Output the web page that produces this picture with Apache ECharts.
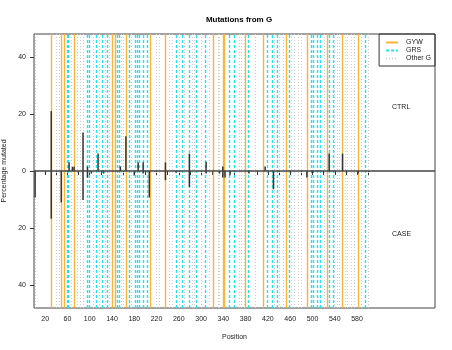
<!DOCTYPE html>
<html>
<head>
<meta charset="utf-8">
<script src="https://cdn.jsdelivr.net/npm/echarts@6/dist/echarts.min.js"></script>
<style>
  html, body { margin: 0; padding: 0; background: #fff; }
  #chart { width: 452px; height: 350px; }
</style>
</head>
<body>
<div id="chart"></div>
<script>
  // motif positions (nt) along the sequence
  const gywPos = [31, 49, 55, 72, 141, 146, 165, 208, 236, 321, 339, 342, 379, 412, 453, 491, 526, 554, 583];
  const grsPos = [59, 61, 96, 100, 112, 122, 131, 149, 153, 171, 181, 185, 189, 197, 204, 255, 267, 278, 291, 308,
    351, 359, 384, 419, 428, 437, 458, 497, 501, 509, 514, 530, 537, 594];
  const otherPos = [3, 40, 45, 66, 78, 83, 88, 106, 117, 128, 136, 156, 160, 175, 219, 225, 243, 249, 261, 270, 284,
    288, 301, 314, 331, 333, 368, 372, 377, 398, 432, 440, 447, 462, 468, 474, 480, 521, 539, 545, 548, 559, 563,
    569, 575, 587, 600];

  // percentage mutated, CTRL (up) and CASE (down)
  const ctrlPos = [31, 63, 69, 72, 88, 96, 115, 155, 165, 187, 196, 236, 279, 309, 339, 415, 530, 554];
  const ctrlPct = [21, 3.1, 1.5, 1.5, 13.5, 1.6, 6.1, 1.6, 12.2, 3, 3.1, 3, 6.1, 3.2, 1.6, 1.6, 6.1, 6.1];
  const casePos = [2, 31, 49, 88, 96, 103, 125, 180, 196, 207, 236, 255, 279, 309, 333, 339, 343, 352, 386, 430, 490, 500, 582];
  const casePct = [9.3, 16.7, 11, 10.2, 2.3, 0.9, 0.9, 1.6, 0.9, 9.3, 3.2, 0.6, 5.6, 0.9, 0.9, 2.3, 2.3, 1.5, 0.9, 6.4, 2.3, 0.9, 0.9];

  const xTicks = [];
  for (let v = 20; v <= 600; v += 20) xTicks.push(v);
  const xLabels = xTicks.filter((v, i) => i % 2 === 0);
  const yTicks = [-40, -20, 0, 20, 40];

  const font = 'Liberation Sans, Arial, sans-serif';

  function vLines(name, pos, color, width, dash) {
    return {
      name: name,
      type: 'line',
      data: [],
      symbol: 'none',
      z: 1,
      itemStyle: { color: 'rgba(0,0,0,0)' },
      lineStyle: { color: color, width: width, type: dash },
      markLine: {
        silent: true,
        symbol: 'none',
        z: 1,
        animation: false,
        label: { show: false },
        lineStyle: { color: color, width: width, type: dash },
        data: pos.map(p => ({ xAxis: p }))
      }
    };
  }

  const myChart = echarts.init(document.getElementById('chart'));
  const options = {
    animation: false,
    backgroundColor: '#fff',
    textStyle: { fontFamily: font },
    title: {
      text: 'Mutations from G',
      left: 234,
      top: 11,
      textAlign: 'center',
      textStyle: { fontSize: 8, fontWeight: 'bold', color: '#000', fontFamily: font }
    },
    legend: {
      orient: 'vertical',
      right: 17,
      top: 34,
      data: ['GYW', 'GRS', 'Other G'],
      itemWidth: 12,
      itemHeight: 7,
      itemGap: 1,
      padding: [5, 4, 4, 6],
      borderColor: '#333',
      borderWidth: 1,
      borderRadius: 0,
      textStyle: { fontSize: 7, color: '#222', padding: [0, 0, 0, 3], fontFamily: font }
    },
    grid: {
      left: 34, top: 34, right: 17, bottom: 42,
      containLabel: false, outerBoundsMode: 'none',
      show: true, borderColor: '#444', borderWidth: 1
    },
    xAxis: {
      type: 'value',
      min: 0,
      max: 720,
      name: 'Position',
      nameLocation: 'middle',
      nameGap: 26,
      nameTextStyle: { fontSize: 7, color: '#222' },
      axisLine: { show: false },
      splitLine: { show: false },
      axisTick: { show: true, length: 4, customValues: xTicks, lineStyle: { color: '#333' } },
      axisLabel: { customValues: xLabels, fontSize: 7, color: '#222', margin: 8 }
    },
    yAxis: {
      type: 'value',
      min: -48,
      max: 48,
      name: 'Percentage mutated',
      nameLocation: 'middle',
      nameRotate: 90,
      nameGap: 24,
      nameTextStyle: { fontSize: 7, color: '#222' },
      axisLine: { show: false },
      splitLine: { show: false },
      axisTick: { show: true, length: 4, customValues: yTicks, lineStyle: { color: '#333' } },
      axisLabel: { customValues: yTicks, fontSize: 7, color: '#222', margin: 8, formatter: v => Math.abs(v) }
    },
    graphic: [
      { type: 'text', left: 392, top: 104, style: { text: 'CTRL', fill: '#222', font: '7px ' + font } },
      { type: 'text', left: 392, top: 231, style: { text: 'CASE', fill: '#222', font: '7px ' + font } }
    ],
    series: [
      vLines('Other G', otherPos, '#cccccc', 1, [1, 2]),
      vLines('GRS', grsPos, '#22e2ea', 1.4, [3, 2]),
      vLines('GYW', gywPos, '#f8b53c', 1.4, 'solid'),
      {
        name: 'CTRL',
        type: 'bar',
        barWidth: 1.5,
        barGap: '-100%',
        z: 3,
        itemStyle: { color: '#333' },
        data: ctrlPos.map((p, i) => [p, ctrlPct[i]])
      },
      {
        name: 'CASE',
        type: 'bar',
        barWidth: 1.5,
        barGap: '-100%',
        z: 3,
        itemStyle: { color: '#333' },
        data: casePos.map((p, i) => [p, -casePct[i]]),
        markLine: {
          silent: true,
          symbol: 'none',
          z: 5,
          label: { show: false },
          lineStyle: { color: '#444', width: 1.5, type: 'solid' },
          data: [{ yAxis: 0 }]
        }
      }
    ]
  };
  myChart.setOption(options);
</script>
</body>
</html>
